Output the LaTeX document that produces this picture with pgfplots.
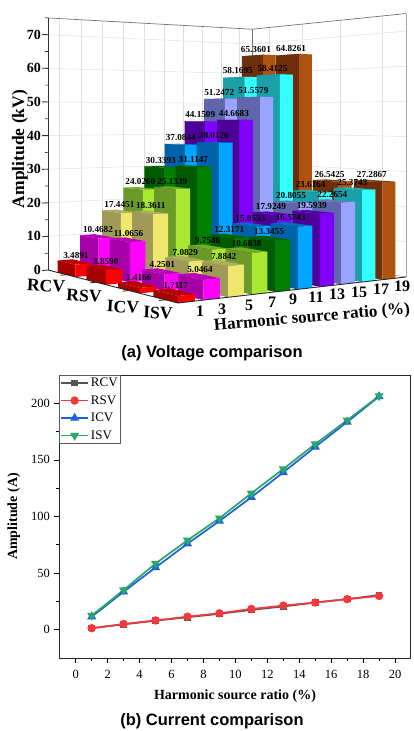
\documentclass[border=0pt]{standalone}
\usepackage{pgfplots}
\pgfplotsset{compat=1.18}
\usepackage{fontspec}
\setmainfont{Liberation Serif}
\newfontfamily\capfont{Liberation Sans}
\newcommand\fz[1]{\fontsize{#1}{#1}\selectfont}
% colours: d = side facing left, l = side facing front
\definecolor{c0d}{HTML}{A80000}\definecolor{c0l}{HTML}{FF0000}
\definecolor{c1d}{HTML}{A800A8}\definecolor{c1l}{HTML}{FF00FF}
\definecolor{c2d}{HTML}{A09A58}\definecolor{c2l}{HTML}{EFE66E}
\definecolor{c3d}{HTML}{6A9A28}\definecolor{c3l}{HTML}{A8E830}
\definecolor{c4d}{HTML}{005A00}\definecolor{c4l}{HTML}{008000}
\definecolor{c5d}{HTML}{0062A8}\definecolor{c5l}{HTML}{00A6FF}
\definecolor{c6d}{HTML}{4F009A}\definecolor{c6l}{HTML}{8000FF}
\definecolor{c7d}{HTML}{5F66AC}\definecolor{c7l}{HTML}{9AA3FF}
\definecolor{c8d}{HTML}{1AA0A8}\definecolor{c8l}{HTML}{33FFFF}
\definecolor{c9d}{HTML}{6E2F08}\definecolor{c9l}{HTML}{AE5210}
\definecolor{lrcv}{HTML}{555555}\definecolor{lrsv}{HTML}{F0393C}
\definecolor{licv}{HTML}{1B62DC}\definecolor{lisv}{HTML}{2BA56B}
% perspective of the bar chart: u along ratio, w along series, v amplitude
\newcommand\proj[4]{%
  \pgfmathsetmacro\tmpd{1+.12366*#1-.18871*#2}%
  \pgfmathsetmacro\tmpgy{(13.16*#1-24.18*#2+270)/\tmpd}%
  \expandafter\pgfmathsetmacro\csname x#4\endcsname{(235.16*#1+96.41*#2+48)/\tmpd}%
  \expandafter\pgfmathsetmacro\csname y#4\endcsname{\tmpgy-#3*(\tmpgy-115)*.02168}}
\newcommand\seg[7]{\proj{#1}{#2}{#3}{A}\proj{#4}{#5}{#6}{B}%
  \addplot[#7,mark=none,forget plot] coordinates {(\xA,\yA)(\xB,\yB)};}
\newcommand\drawbar[3]{% k s value
  \pgfmathsetmacro\ua{.098*#1}\pgfmathsetmacro\ub{\ua+.065}%
  \pgfmathsetmacro\wb{.25*(#2+1)}\pgfmathsetmacro\wa{\wb-.16}%
  \proj{\ua}{\wa}{#3}{A}\proj{\ub}{\wa}{#3}{B}\proj{\ub}{\wb}{#3}{C}\proj{\ua}{\wb}{#3}{D}%
  \proj{\ua}{\wa}{0}{E}\proj{\ub}{\wb}{0}{F}\proj{\ua}{\wb}{0}{G}%
  \addplot[fill=c#1d!78!c#1l,draw=none,mark=none,forget plot] coordinates {(\xA,\yA)(\xB,\yB)(\xC,\yC)(\xD,\yD)} --cycle;
  \addplot[fill=c#1d,draw=none,mark=none,forget plot] coordinates {(\xA,\yA)(\xD,\yD)(\xG,\yG)(\xE,\yE)} --cycle;
  \addplot[fill=c#1l,draw=none,mark=none,forget plot] coordinates {(\xD,\yD)(\xC,\yC)(\xF,\yF)(\xG,\yG)} --cycle;}
\newcommand\drawlabel[3]{%
  \pgfmathsetmacro\um{.098*#1+.0325}\pgfmathsetmacro\wm{.25*(#2+1)-.08}%
  \proj{\um}{\wm}{#3}{A}\pgfmathsetmacro\yL{\yA-6.5}\pgfmathsetmacro\xL{\xA+2-5*\um}%
  \edef\tmpn{\noexpand\node[font=\noexpand\fz{9.2}\noexpand\bfseries,inner sep=0pt] at (axis cs:\xL,\yL) {#3};}\tmpn}
\newcommand\ytl[1]{\proj{0}{0}{#1}{A}%
  \edef\tmpn{\noexpand\node[font=\noexpand\fz{14}\noexpand\bfseries,anchor=east,inner sep=0pt] at (axis cs:41,\yA) {#1};}\tmpn
  \seg{0}{0}{#1}{-.026}{0}{#1}{black!80,line width=.9pt}}
\def\alldata{%
\tb{9}{0}{65.3601}\tb{8}{0}{58.1695}\tb{7}{0}{51.2472}\tb{6}{0}{44.1509}\tb{5}{0}{37.0844}%
\tb{4}{0}{30.3393}\tb{3}{0}{24.0260}\tb{2}{0}{17.4451}\tb{1}{0}{10.4682}\tb{0}{0}{3.4891}%
\tb{9}{1}{64.8261}\tb{8}{1}{58.4125}\tb{7}{1}{51.5579}\tb{6}{1}{44.6683}\tb{5}{1}{38.0126}%
\tb{4}{1}{31.1147}\tb{3}{1}{25.1339}\tb{2}{1}{18.3611}\tb{1}{1}{11.0656}\tb{0}{1}{3.8590}%
\tb{9}{2}{26.5425}\tb{8}{2}{23.6164}\tb{7}{2}{20.8055}\tb{6}{2}{17.9249}\tb{5}{2}{15.0553}%
\tb{4}{2}{12.3171}\tb{3}{2}{9.7546}\tb{2}{2}{7.0829}\tb{1}{2}{4.2501}\tb{0}{2}{1.4166}%
\tb{9}{3}{27.2867}\tb{8}{3}{25.3743}\tb{7}{3}{22.2654}\tb{6}{3}{19.5939}\tb{5}{3}{16.5743}%
\tb{4}{3}{13.3455}\tb{3}{3}{10.6838}\tb{2}{3}{7.8842}\tb{1}{3}{5.0464}\tb{0}{3}{1.7117}}
\pgfplotsset{/pgfplots/legend image code/.code={%
  \draw[#1,mark repeat=2,mark phase=2] plot coordinates {(0pt,0pt)(13.5pt,0pt)(27pt,0pt)};}}
\begin{document}
\begin{tikzpicture}[x=1pt,y=1pt]
\fill[white] (0,0) rectangle (413,731);
\useasboundingbox (0,0) rectangle (413,731);
\begin{axis}[at={(0pt,0pt)},anchor=south west,scale only axis,width=413pt,height=731pt,
  xmin=0,xmax=413,ymin=0,ymax=731,y dir=reverse,hide axis,clip=false]
% wall grid
\seg{0}{0}{10}{1}{0}{10}{black!12,line width=.5pt}
\seg{0}{0}{20}{1}{0}{20}{black!12,line width=.5pt}
\seg{0}{0}{30}{1}{0}{30}{black!12,line width=.5pt}
\seg{0}{0}{40}{1}{0}{40}{black!12,line width=.5pt}
\seg{0}{0}{50}{1}{0}{50}{black!12,line width=.5pt}
\seg{0}{0}{60}{1}{0}{60}{black!12,line width=.5pt}
\seg{0}{0}{70}{1}{0}{70}{black!12,line width=.5pt}
\seg{1}{0}{10}{1}{1}{10}{black!12,line width=.5pt}
\seg{1}{0}{20}{1}{1}{20}{black!12,line width=.5pt}
\seg{1}{0}{30}{1}{1}{30}{black!12,line width=.5pt}
\seg{1}{0}{40}{1}{1}{40}{black!12,line width=.5pt}
\seg{1}{0}{50}{1}{1}{50}{black!12,line width=.5pt}
\seg{1}{0}{60}{1}{1}{60}{black!12,line width=.5pt}
\seg{1}{0}{70}{1}{1}{70}{black!12,line width=.5pt}
\seg{.05}{0}{0}{.05}{0}{75}{black!12,line width=.5pt}
\seg{.148}{0}{0}{.148}{0}{75}{black!12,line width=.5pt}
\seg{.246}{0}{0}{.246}{0}{75}{black!12,line width=.5pt}
\seg{.344}{0}{0}{.344}{0}{75}{black!12,line width=.5pt}
\seg{.442}{0}{0}{.442}{0}{75}{black!12,line width=.5pt}
\seg{.54}{0}{0}{.54}{0}{75}{black!12,line width=.5pt}
\seg{.638}{0}{0}{.638}{0}{75}{black!12,line width=.5pt}
\seg{.736}{0}{0}{.736}{0}{75}{black!12,line width=.5pt}
\seg{.834}{0}{0}{.834}{0}{75}{black!12,line width=.5pt}
\seg{.932}{0}{0}{.932}{0}{75}{black!12,line width=.5pt}
\seg{1}{.13}{0}{1}{.13}{75}{black!12,line width=.5pt}
\seg{1}{.37}{0}{1}{.37}{75}{black!12,line width=.5pt}
\seg{1}{.62}{0}{1}{.62}{75}{black!12,line width=.5pt}
\seg{1}{.87}{0}{1}{.87}{75}{black!12,line width=.5pt}
% frame of the walls
\seg{0}{0}{75}{1}{0}{75}{black!55,line width=.7pt}
\seg{1}{0}{75}{1}{1}{75}{black!55,line width=.7pt}
\seg{1}{0}{0}{1}{0}{75}{black!55,line width=.7pt}
\seg{1}{1}{0}{1}{1}{75}{black!35,line width=.6pt}
\seg{1}{0}{0}{1}{1}{0}{black!35,line width=.6pt}
\let\tb\drawbar \alldata
% axes on top of the floor
\seg{0}{0}{0}{0}{0}{75}{black!80,line width=.9pt}
\seg{0}{0}{0}{0}{1}{0}{black!85,line width=.9pt}
\seg{0}{1}{0}{1}{1}{0}{black!85,line width=.9pt}
\seg{0}{.17}{0}{-.025}{.17}{0}{black!85,line width=.8pt}
\seg{0}{.42}{0}{-.025}{.42}{0}{black!85,line width=.8pt}
\seg{0}{.67}{0}{-.025}{.67}{0}{black!85,line width=.8pt}
\seg{0}{.92}{0}{-.025}{.92}{0}{black!85,line width=.8pt}
\ytl{0}\ytl{10}\ytl{20}\ytl{30}\ytl{40}\ytl{50}\ytl{60}\ytl{70}
\seg{0}{0}{5}{-.014}{0}{5}{black!80,line width=.7pt}
\seg{0}{0}{15}{-.014}{0}{15}{black!80,line width=.7pt}
\seg{0}{0}{25}{-.014}{0}{25}{black!80,line width=.7pt}
\seg{0}{0}{35}{-.014}{0}{35}{black!80,line width=.7pt}
\seg{0}{0}{45}{-.014}{0}{45}{black!80,line width=.7pt}
\seg{0}{0}{55}{-.014}{0}{55}{black!80,line width=.7pt}
\seg{0}{0}{65}{-.014}{0}{65}{black!80,line width=.7pt}
\seg{0}{0}{75}{-.014}{0}{75}{black!80,line width=.7pt}
\let\tb\drawlabel \alldata
% labels
\node[font=\fz{17.5}\bfseries,rotate=90,inner sep=0pt] at (axis cs:20,149) {Amplitude (kV)};
\node[font=\fz{17.5}\bfseries,rotate=-3,inner sep=0pt] at (axis cs:46,286) {RCV};
\node[font=\fz{17.5}\bfseries,rotate=-3,inner sep=0pt] at (axis cs:84,296) {RSV};
\node[font=\fz{17.5}\bfseries,rotate=-3,inner sep=0pt] at (axis cs:123,307) {ICV};
\node[font=\fz{17.5}\bfseries,rotate=-3,inner sep=0pt] at (axis cs:158,313) {ISV};
\node[font=\fz{16}\bfseries,inner sep=0pt] at (axis cs:200,311) {1};
\node[font=\fz{16}\bfseries,inner sep=0pt] at (axis cs:222,309) {3};
\node[font=\fz{16}\bfseries,inner sep=0pt] at (axis cs:249,305) {5};
\node[font=\fz{16}\bfseries,inner sep=0pt] at (axis cs:272,302) {7};
\node[font=\fz{16}\bfseries,inner sep=0pt] at (axis cs:293,299) {9};
\node[font=\fz{16}\bfseries,inner sep=0pt] at (axis cs:316,297) {11};
\node[font=\fz{16}\bfseries,inner sep=0pt] at (axis cs:337,294) {13};
\node[font=\fz{16}\bfseries,inner sep=0pt] at (axis cs:359,292) {15};
\node[font=\fz{16}\bfseries,inner sep=0pt] at (axis cs:381,289) {17};
\node[font=\fz{16}\bfseries,inner sep=0pt] at (axis cs:402,286) {19};
\node[font=\fz{17}\bfseries,rotate=5,inner sep=0pt] at (axis cs:312,318) {Harmonic source ratio (\%)};
\node[font=\capfont\fz{16.5}\bfseries,inner sep=0pt] at (axis cs:212,353) {(a) Voltage comparison};
\node[font=\capfont\fz{16.5}\bfseries,inner sep=0pt] at (axis cs:212,721) {(b) Current comparison};
\end{axis}
\begin{axis}[at={(59.3pt,73pt)},anchor=south west,scale only axis,width=351.4pt,height=283pt,
  xmin=-1.03,xmax=20.98,ymin=-25,ymax=225,
  xtick={0,2,...,20},ytick={0,50,...,200},minor x tick num=1,minor y tick num=1,
  tick align=outside,tick pos=left,
  major tick length=5pt,minor tick length=3pt,
  every tick/.style={black,line width=.7pt},
  axis line style={black!85,line width=.8pt},
  /pgf/number format/assume math mode=true,
  tick label style={font=\fz{12.5}},
  xticklabel style={yshift=-4pt},
  yticklabel style={xshift=-1pt},
  xlabel={Harmonic source ratio (\%)},ylabel={Amplitude (A)},
  xlabel style={font=\fz{14}\bfseries,yshift=-4pt},
  ylabel style={font=\fz{14}\bfseries,yshift=4pt},
  legend style={at={(0,1)},anchor=north west,draw=black!65,line width=.5pt,font=\fz{13},
    inner sep=1pt,outer sep=0pt,row sep=3.4pt,/tikz/every even column/.append style={column sep=0pt}},
  legend cell align=left]
\addplot[color=lrcv,line width=1.7pt,mark=square*,mark size=2.5pt] coordinates {(1,1.4)(3,4.7)(5,8)(7,11)(9,14)(11,17.5)(13,20.5)(15,24)(17,27)(19,30.6)};
\addlegendentry{RCV}
\addplot[color=lrsv,line width=1.7pt,mark=*,mark size=3.3pt] coordinates {(1,1.3)(3,5)(5,8.2)(7,11.5)(9,14.5)(11,18.3)(13,21.3)(15,24)(17,27)(19,29.8)};
\addlegendentry{RSV}
\addplot[color=licv,line width=1.7pt,mark=triangle*,mark size=3.6pt] coordinates {(1,11.5)(3,33.5)(5,55)(7,76)(9,96)(11,117)(13,139)(15,161.5)(17,183.5)(19,206)};
\addlegendentry{ICV}
\addplot[color=lisv,line width=1.7pt,mark=triangle*,mark options={rotate=180},mark size=3.6pt] coordinates {(1,12.5)(3,35)(5,58.5)(7,79)(9,98.5)(11,120.5)(13,142)(15,164)(17,185)(19,206.5)};
\addlegendentry{ISV}
\end{axis}
\end{tikzpicture}
\end{document}
